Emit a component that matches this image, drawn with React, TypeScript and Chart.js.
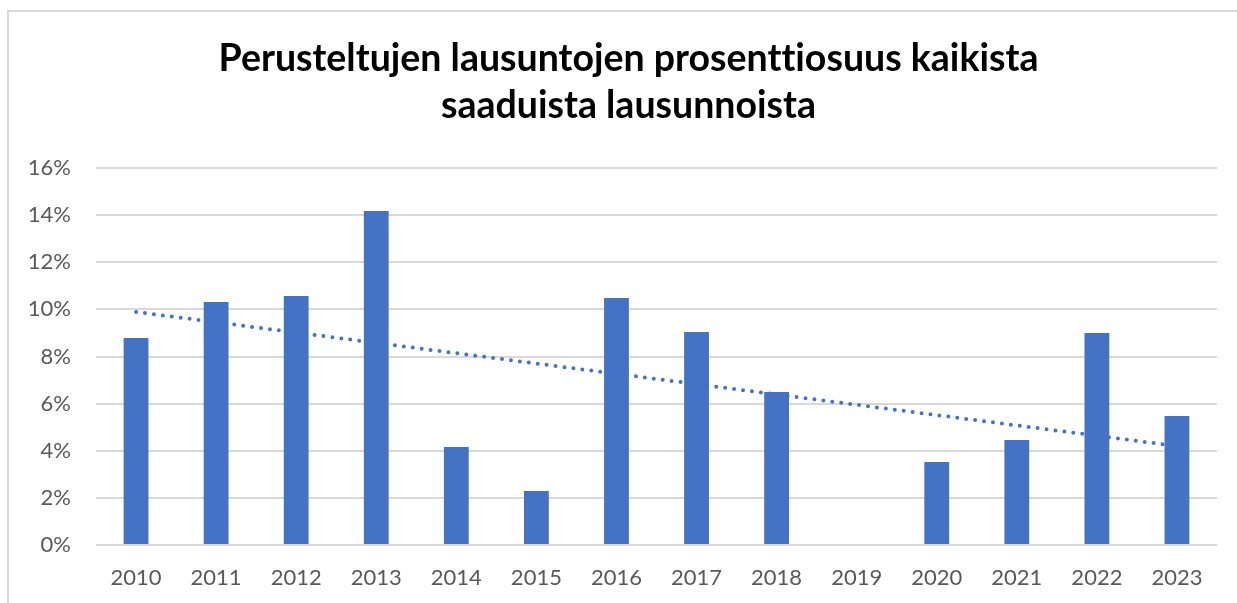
import React, { useEffect, useRef } from "react";
import { Chart, registerables } from "chart.js";

Chart.register(...registerables);

const years = ["2010", "2011", "2012", "2013", "2014", "2015", "2016", "2017", "2018", "2019", "2020", "2021", "2022", "2023"];
const shares = [8.79, 10.31, 10.57, 14.18, 4.16, 2.29, 10.48, 9.04, 6.49, 0, 3.52, 4.46, 9.0, 5.48];
const trendStart = 9.89;
const trendEnd = 4.2;
const yTicks = [0, 2, 4, 6, 8, 10, 12, 14, 16];
const titleLines = ["Perusteltujen lausuntojen prosenttiosuus kaikista", "saaduista lausunnoista"];

const BLUE = "#4472c4";
const GRID = "#d9d9d9";
const TICK = "#595959";

export default function App() {
  const ref = useRef<HTMLCanvasElement | null>(null);

  useEffect(() => {
    const canvas = ref.current;
    if (!canvas) return;
    const trend = years.map((_, i) => (i === 0 ? trendStart : i === years.length - 1 ? trendEnd : null));
    const chart = new Chart(canvas, {
      type: "bar",
      data: {
        labels: years,
        datasets: [
          {
            type: "bar",
            data: shares,
            backgroundColor: BLUE,
            borderWidth: 0,
            barPercentage: 0.31,
            categoryPercentage: 1,
            order: 1,
          } as any,
          {
            type: "line",
            data: trend,
            spanGaps: true,
            borderColor: BLUE,
            borderWidth: 4,
            borderDash: [0, 9],
            borderCapStyle: "round",
            pointRadius: 0,
            fill: false,
            order: 2,
          } as any,
        ],
      },
      options: {
        animation: false,
        responsive: false,
        devicePixelRatio: 1,
        layout: { padding: { top: 168, right: 20, bottom: 18, left: 0 } },
        plugins: {
          legend: { display: false },
          tooltip: { enabled: false },
          title: { display: false },
        },
        scales: {
          x: {
            grid: { display: false, drawTicks: false },
            border: { display: false },
            ticks: {
              color: TICK,
              font: { family: "Lato", size: 22 },
              padding: 20,
              maxRotation: 0,
              autoSkip: false,
            },
            afterFit: (s: any) => {
              s.height = 40;
            },
          },
          y: {
            min: 0,
            max: 16,
            afterBuildTicks: (s: any) => {
              s.ticks = yTicks.map((v) => ({ value: v }));
            },
            grid: { color: GRID, lineWidth: 2, drawTicks: false },
            border: { display: false },
            ticks: {
              color: TICK,
              font: { family: "Lato", size: 22 },
              padding: 25,
              callback: (v: any) => `${v}%`,
            },
            afterFit: (s: any) => {
              s.width = 96;
            },
          },
        },
      },
    });
    return () => chart.destroy();
  }, []);

  return (
    <div
      style={{
        position: "fixed",
        left: 0,
        top: 0,
        width: 1237,
        height: 603,
        overflow: "hidden",
        background: "#ffffff",
      }}
    >
      <div
        style={{
          position: "absolute",
          left: 7,
          top: 10,
          width: 1300,
          height: 700,
          borderTop: `2px solid ${GRID}`,
          borderLeft: `2px solid ${GRID}`,
        }}
      />
      <canvas ref={ref} width={1237} height={603} style={{ position: "absolute", left: 0, top: 0 }} />
      <div
        style={{
          position: "absolute",
          left: 0,
          top: 33,
          width: 1257,
          textAlign: "center",
          fontFamily: "Lato",
          fontWeight: 700,
          fontSize: 37.5,
          lineHeight: "47px",
          color: "#000000",
          fontVariantLigatures: "none",
          whiteSpace: "nowrap",
        }}
      >
        {titleLines.map((l, i) => (
          <div key={i}>{l}</div>
        ))}
      </div>
    </div>
  );
}
